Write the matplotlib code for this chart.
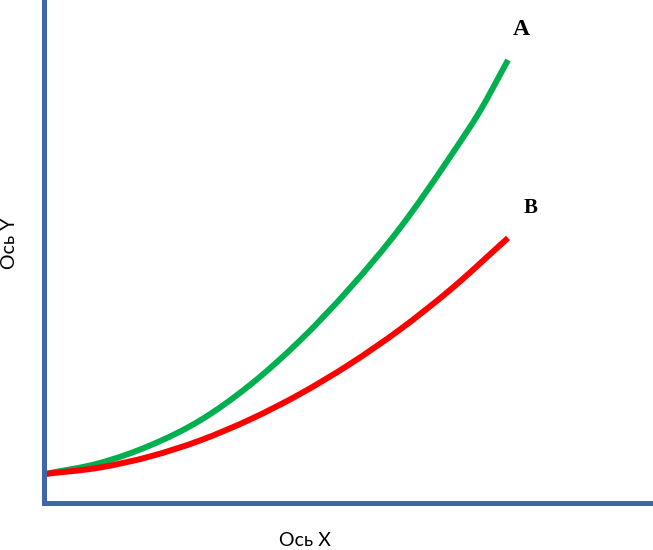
import numpy as np
import matplotlib.pyplot as plt
from matplotlib.path import Path
from matplotlib.patches import PathPatch

x_a = [0.02, 1.12, 2.12, 3.12, 4.12, 5.12, 6.12, 7.12, 8.12, 8.72, 9.28]
y_a = [0.58, 0.80, 1.15, 1.65, 2.36, 3.25, 4.30, 5.50, 6.92, 7.84, 8.86]

x_b = [0.02, 1.12, 2.12, 3.12, 4.12, 5.12, 6.12, 7.12, 8.12, 9.28]
y_b = [0.58, 0.71, 0.93, 1.25, 1.67, 2.18, 2.78, 3.47, 4.26, 5.30]

axis_color = "#4264AA"


def smooth_path(xs, ys):
    # cubic Hermite through the points (tangents from neighbours), as Bezier segments
    x = np.asarray(xs, float)
    y = np.asarray(ys, float)
    m = np.gradient(y, x)
    verts = [(x[0], y[0])]
    codes = [Path.MOVETO]
    for i in range(len(x) - 1):
        h = x[i + 1] - x[i]
        verts += [(x[i] + h / 3, y[i] + m[i] * h / 3),
                  (x[i + 1] - h / 3, y[i + 1] - m[i + 1] * h / 3),
                  (x[i + 1], y[i + 1])]
        codes += [Path.CURVE4] * 3
    return Path(verts, codes)


fig = plt.figure(figsize=(6.53, 5.5), dpi=100)
ax = fig.add_axes([0.0674, 0.0855, 0.9326, 0.9145])

ax.add_patch(PathPatch(smooth_path(x_a, y_a), fill=False, edgecolor="#00B050",
                       lw=4.3, capstyle="butt"))
ax.add_patch(PathPatch(smooth_path(x_b, y_b), fill=False, edgecolor="#FF0000",
                       lw=4.3, capstyle="butt"))

ax.text(9.54, 9.46, "A", family="Liberation Serif", fontweight="bold", fontsize=17,
        ha="center", va="center")
ax.text(9.74, 5.9, "B", family="Liberation Serif", fontweight="bold", fontsize=15,
        ha="center", va="center")

ax.set_xlim(0, 12.18)
ax.set_ylim(0, 10.06)
ax.set_xticks([])
ax.set_yticks([])
for s in ["top", "right"]:
    ax.spines[s].set_visible(False)
for s in ["left", "bottom"]:
    ax.spines[s].set_color(axis_color)
    ax.spines[s].set_linewidth(3.6)

fig.text(0.467, 0.0164, "Ось X", family="Lato", fontsize=14, ha="center", va="center")
fig.text(0.0153, 0.558, "Ось Y", family="Lato", fontsize=14, ha="center", va="center",
         rotation=90)

fig.savefig("out.png", dpi=100)
